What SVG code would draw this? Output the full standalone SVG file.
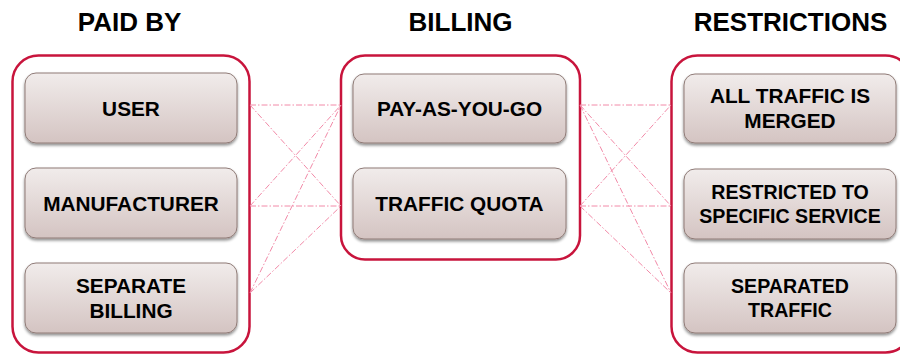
<svg xmlns="http://www.w3.org/2000/svg" width="900" height="354" viewBox="0 0 900 354">
<defs>
<linearGradient id="bg" x1="0" y1="0" x2="0" y2="1">
<stop offset="0" stop-color="#f1eceb"/>
<stop offset="1" stop-color="#d4c4c2"/>
</linearGradient>
<filter id="sh" x="-10%" y="-10%" width="120%" height="130%">
<feGaussianBlur in="SourceAlpha" stdDeviation="1.5"/>
<feOffset dx="0" dy="2" result="b"/>
<feComponentTransfer><feFuncA type="linear" slope="0.45"/></feComponentTransfer>
<feMerge><feMergeNode/><feMergeNode in="SourceGraphic"/></feMerge>
</filter>
</defs>
<style>
.title{font-family:"Liberation Sans",Arial,sans-serif;font-weight:bold;font-size:26px;fill:#000;text-anchor:middle}
.cont{fill:#fff;stroke:#c8143c;stroke-width:2.5}
.box{fill:url(#bg);stroke:#8f7b77;stroke-width:1;filter:url(#sh)}
.lbl{font-family:"Liberation Sans",Arial,sans-serif;font-weight:bold;font-size:20.8px;fill:#000;text-anchor:middle}
.sm{font-size:19.6px}
.con line{stroke:#f28aa8;stroke-width:1;stroke-dasharray:6 2 1.5 2;fill:none}
</style>
<rect width="900" height="354" fill="#fff"/>
<g id="titles">
<text class="title" x="129.5" y="31">PAID BY</text>
<text class="title" x="460.5" y="31">BILLING</text>
<text class="title" x="790.5" y="31">RESTRICTIONS</text>
</g>
<g id="paid-by">
<rect class="cont" x="12.5" y="55.5" width="237" height="297" rx="26"/>
</g>
<g id="billing">
<rect class="cont" x="341" y="55.5" width="239" height="204" rx="24"/>
</g>
<g id="restrictions">
<rect class="cont" x="671.5" y="55.5" width="240" height="297" rx="26"/>
</g>
<g class="con" id="connectors">
<line x1="250" y1="105" x2="341" y2="105"/>
<line x1="250" y1="105" x2="341" y2="206"/>
<line x1="250" y1="206" x2="341" y2="105"/>
<line x1="250" y1="206" x2="341" y2="206"/>
<line x1="250" y1="293" x2="341" y2="105"/>
<line x1="250" y1="293" x2="341" y2="206"/>
<line x1="580" y1="105" x2="671" y2="105"/>
<line x1="580" y1="105" x2="671" y2="206"/>
<line x1="580" y1="105" x2="671" y2="293"/>
<line x1="580" y1="206" x2="671" y2="105"/>
<line x1="580" y1="206" x2="671" y2="206"/>
<line x1="580" y1="206" x2="671" y2="293"/>
</g>
<g id="user">
<rect class="box" x="25" y="73" width="212" height="70" rx="11"/>
<text class="lbl" x="131" y="115.5">USER</text>
</g>
<g id="manufacturer">
<rect class="box" x="25" y="168" width="212" height="70" rx="11"/>
<text class="lbl" x="131" y="210.5">MANUFACTURER</text>
</g>
<g id="separate-billing">
<rect class="box" x="25" y="263" width="212" height="70" rx="11"/>
<text class="lbl" x="131" y="293.3">SEPARATE</text>
<text class="lbl" x="131" y="318.3">BILLING</text>
</g>
<g id="pay-as-you-go">
<rect class="box" x="353" y="74" width="213" height="69" rx="11"/>
<text class="lbl" x="459.5" y="115.5">PAY-AS-YOU-GO</text>
</g>
<g id="traffic-quota">
<rect class="box" x="353" y="168" width="213" height="71" rx="11"/>
<text class="lbl" x="459.5" y="210.5">TRAFFIC QUOTA</text>
</g>
<g id="all-traffic-merged">
<rect class="box" x="684" y="74" width="212" height="69" rx="11"/>
<text class="lbl" x="790" y="103.3">ALL TRAFFIC IS</text>
<text class="lbl" x="790" y="128.3">MERGED</text>
</g>
<g id="restricted-to-service">
<rect class="box" x="684" y="169" width="212" height="70" rx="11"/>
<text class="lbl sm" x="790" y="199.3">RESTRICTED TO</text>
<text class="lbl sm" x="790" y="222.7">SPECIFIC SERVICE</text>
</g>
<g id="separated-traffic">
<rect class="box" x="684" y="263" width="212" height="70" rx="11"/>
<text class="lbl sm" x="790" y="293.3">SEPARATED</text>
<text class="lbl sm" x="790" y="316.7">TRAFFIC</text>
</g>
</svg>
